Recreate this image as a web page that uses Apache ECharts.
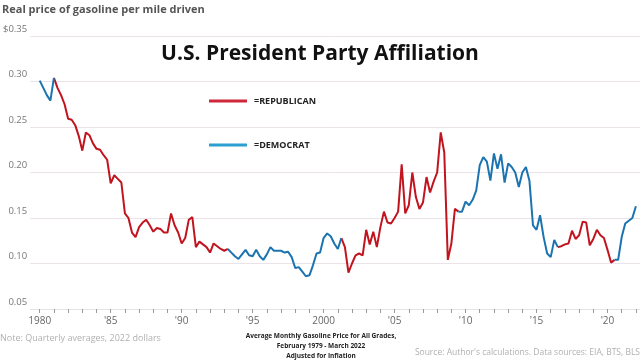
<!DOCTYPE html>
<html><head><meta charset="utf-8">
<script src="https://cdn.jsdelivr.net/npm/echarts@6/dist/echarts.min.js"></script>
<style>html,body{margin:0;padding:0;background:#fff}#c{width:640px;height:360px}</style>
</head><body><div id="c"></div>
<script>
// Quarterly values, starting 1980 Q1 (step: one quarter)
const startYear = 1980;
const values = [
  0.301,0.293,0.285,0.279, 0.304,0.293,0.285,0.275, 0.259,0.258,0.252,0.240,
  0.224,0.244,0.241,0.232, 0.226,0.225,0.219,0.214, 0.188,0.197,0.193,0.189,
  0.155,0.150,0.134,0.129, 0.140,0.145,0.148,0.142, 0.135,0.139,0.138,0.134,
  0.134,0.155,0.142,0.134, 0.122,0.128,0.148,0.151, 0.118,0.124,0.121,0.118,
  0.112,0.122,0.119,0.116, 0.114,0.116,0.112,0.108, 0.105,0.110,0.115,0.109,
  0.108,0.115,0.108,0.104, 0.110,0.118,0.114,0.114, 0.114,0.112,0.113,0.107,
  0.095,0.096,0.091,0.086, 0.087,0.098,0.111,0.112, 0.128,0.133,0.130,0.122,
  0.116,0.128,0.118,0.090, 0.100,0.109,0.111,0.109, 0.137,0.121,0.135,0.118,
  0.140,0.157,0.145,0.144, 0.150,0.157,0.209,0.155, 0.164,0.200,0.173,0.160,
  0.167,0.195,0.178,0.190, 0.200,0.244,0.222,0.104, 0.122,0.160,0.157,0.157,
  0.168,0.164,0.170,0.180, 0.208,0.217,0.212,0.191, 0.221,0.204,0.220,0.189,
  0.210,0.206,0.200,0.184, 0.200,0.206,0.191,0.142, 0.137,0.153,0.129,0.111,
  0.107,0.126,0.118,0.119, 0.121,0.122,0.136,0.127, 0.131,0.146,0.145,0.120,
  0.127,0.137,0.131,0.128, 0.115,0.101,0.104,0.104, 0.129,0.144,0.147,0.150,
  0.163
];
// Party in office: changes at these years
const termStarts = [1981.0, 1993.25, 2001.25, 2009.5, 2016.5, 2020.5];
const termParties = ['D','R','D','R','D','R','D'];
const xLabelYears = [1980,1985,1990,1995,2000,2005,2010,2015,2020];
const xLabelText = ['1980',"'85","'90","'95",'2000',"'05","'10","'15","'20"];
const tickYears = [];
for (let y = 1980; y <= 2022; y++) tickYears.push(y);

const years = values.map((v,i)=>startYear + i*0.25);
function partyAt(t){
  let k = 0;
  for (const s of termStarts) if (t >= s - 1e-9) k++;
  return termParties[k];
}
function seriesFor(p){
  return years.map((t,i)=>{
    const here = partyAt(t) === p;
    const prev = i>0 && partyAt(years[i-1]) === p;
    return (here || prev) ? [t, values[i]] : [t, null];
  });
}
const RED = '#c2141f', BLUE = '#1b74b0';
const chart = echarts.init(document.getElementById('c'));
chart.setOption({
  animation:false,
  backgroundColor:'#fff',
  title:[
    {text:'Real price of gasoline per mile driven', left:2, top:4, padding:0,
     textStyle:{fontFamily:'Open Sans', fontWeight:'bold', fontSize:11, color:'#555'}},
    {text:'U.S. President Party Affiliation', left:'center', top:44, padding:0,
     textStyle:{fontFamily:'Open Sans', fontWeight:'bold', fontSize:21, color:'#111'}},
    {text:'Average Monthly Gasoline Price for All Grades,\nFebruary 1979 - March 2022\nAdjusted for Inflation',
     left:321, top:331, textAlign:'center', padding:0,
     textStyle:{fontFamily:'Open Sans', fontWeight:'bold', fontSize:6.5, lineHeight:10, color:'#222', align:'center'}},
    {text:'Note: Quarterly averages, 2022 dollars', left:0, top:334, padding:0,
     textStyle:{fontFamily:'Open Sans', fontWeight:'normal', fontSize:9, color:'#b0b0b0'}},
    {text:"Source: Author's calculations. Data sources: EIA, BTS, BLS", right:0, top:348, padding:0,
     textStyle:{fontFamily:'Open Sans', fontWeight:'normal', fontSize:8.5, color:'#b0b0b0'}}
  ],
  legend:{
    orient:'vertical', left:204, top:89, itemWidth:38, itemHeight:3, itemGap:30,
    icon:'rect',
    textStyle:{fontFamily:'Open Sans', fontWeight:'bold', fontSize:9, color:'#222', lineHeight:14, padding:[0,0,0,2]},
    data:[{name:'=REPUBLICAN', itemStyle:{color:'#d0283a'}},{name:'=DEMOCRAT', itemStyle:{color:'#2a9fd0'}}]
  },
  grid:{left:30, right:0, top:36, bottom:51},
  xAxis:{
    type:'value', min:1979.33, max:2022.29,
    splitLine:{show:false},
    axisLine:{show:true, lineStyle:{color:'#e4e4e4'}},
    axisTick:{show:true, length:4, lineStyle:{color:'#999'}, customValues:tickYears},
    axisLabel:{customValues:xLabelYears, margin:7, fontFamily:'Open Sans', fontSize:10, color:'#666',
      formatter:v=>{const i = xLabelYears.indexOf(Math.round(v)); return i>=0 ? xLabelText[i] : '';}}
  },
  yAxis:{
    type:'value', min:0.05, max:0.35, interval:0.05,
    axisLine:{show:false}, axisTick:{show:false},
    splitLine:{lineStyle:{color:'#ebe3ea', width:1}},
    axisLabel:{margin:3, fontFamily:'Open Sans', fontSize:9.5, color:'#777', verticalAlign:'bottom', padding:[0,0,2,0],
      formatter:v=>{const s = v.toFixed(2); return Math.abs(v-0.35)<1e-6 ? '$'+s : s;}}
  },
  series:[
    {name:'=REPUBLICAN', type:'line', data:seriesFor('R'), showSymbol:false, connectNulls:false,
     lineStyle:{color:RED, width:2}, itemStyle:{color:RED}},
    {name:'=DEMOCRAT', type:'line', data:seriesFor('D'), showSymbol:false, connectNulls:false,
     lineStyle:{color:BLUE, width:2}, itemStyle:{color:BLUE}}
  ]
});
</script></body></html>
